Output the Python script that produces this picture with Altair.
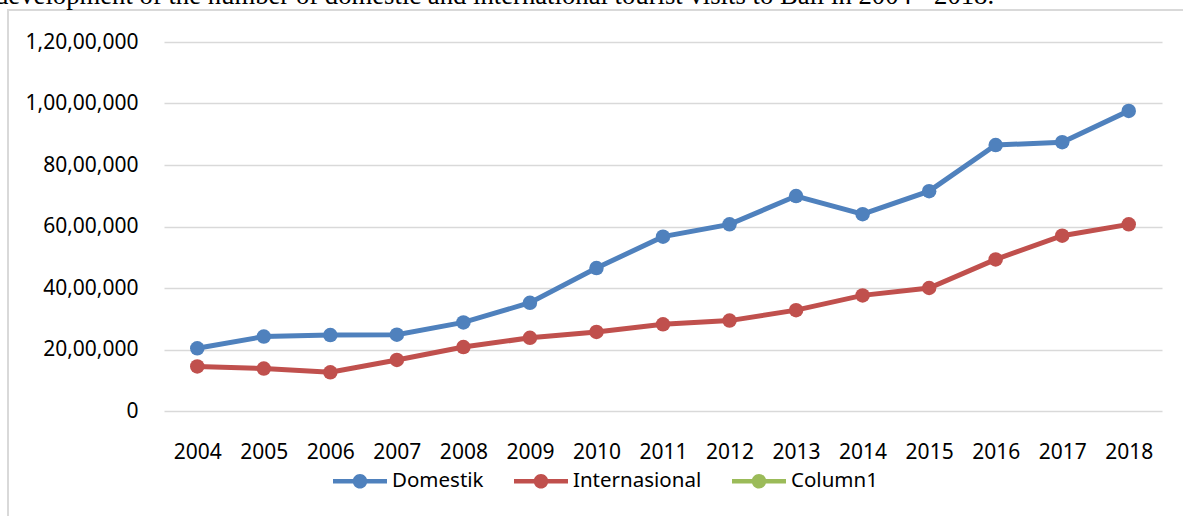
import altair as alt
import pandas as pd

years = ["2004", "2005", "2006", "2007", "2008", "2009", "2010", "2011",
         "2012", "2013", "2014", "2015", "2016", "2017", "2018"]
domestik = [2040000, 2420000, 2470000, 2480000, 2880000, 3520000, 4650000, 5670000,
            6070000, 6990000, 6400000, 7150000, 8650000, 8740000, 9760000]
internasional = [1450000, 1380000, 1260000, 1660000, 2080000, 2380000, 2570000, 2820000,
                 2940000, 3280000, 3760000, 4000000, 4930000, 5700000, 6070000]
series_names = ["Domestik", "Internasional", "Column1"]
series_colors = ["#4F81BD", "#C0504D", "#9BBB59"]
y_ticks = [0, 2000000, 4000000, 6000000, 8000000, 10000000, 12000000]
caption = "development of the number of domestic and international tourist visits to Bali in 2004 - 2018."

df = pd.DataFrame({
    "year": years * 2,
    "series": ["Domestik"] * len(years) + ["Internasional"] * len(years),
    "value": domestik + internasional,
})

FONT = "Noto Sans"

indian = ("datum.value == 0 ? '0' : "
          "(datum.value >= 10000000 ? format(floor(datum.value/10000000),'d') + ',' + format(floor(datum.value/100000)%100,'02d') "
          ": format(floor(datum.value/100000),'d')) + ',' + format(floor(datum.value/1000)%100,'02d') + ',' + format(datum.value%1000,'03d')")

x = alt.X("year:O", title=None, sort=years,
          axis=alt.Axis(labelAngle=0, grid=False, domain=False, ticks=False,
                        labelPadding=30, labelFont=FONT, labelFontSize=21, labelColor="black"))
y = alt.Y("value:Q", title=None,
          scale=alt.Scale(domain=[0, 12000000], nice=False),
          axis=alt.Axis(values=y_ticks, labelExpr=indian, grid=True, gridColor="#d9d9d9",
                        gridWidth=1.3, domain=False, ticks=False, labelPadding=26,
                        labelFont=FONT, labelFontSize=21, labelColor="black"))

color_scale = alt.Scale(domain=series_names, range=series_colors)

sym = ("M-1,-0.08L1,-0.08L1,0.08L-1,0.08Z "
       "M0.27,0A0.27,0.27 0 1,1 -0.27,0A0.27,0.27 0 1,1 0.27,0Z")

legend = alt.Legend(title=None, orient="none", direction="horizontal",
                    legendX=169, legendY=412,
                    symbolType=sym, symbolSize=2916, symbolStrokeWidth=0,
                    labelFont=FONT, labelFontSize=20.5, labelColor="black",
                    labelOffset=5, columnPadding=30, values=series_names)

base = alt.Chart(df)
lines = base.mark_line(strokeWidth=5).encode(
    x=x, y=y, color=alt.Color("series:N", scale=color_scale, legend=legend))
points = base.mark_circle(size=210, opacity=1).encode(
    x=x, y=y, color=alt.Color("series:N", scale=color_scale, legend=legend))

one = pd.DataFrame({"a": [0]})
border = alt.Chart(one).mark_rect(fillOpacity=0, stroke="#d9d9d9", strokeWidth=2).encode(
    x=alt.value(-156), x2=alt.value(1200), y=alt.value(-32), y2=alt.value(700))
title = alt.Chart(one).mark_text(font="Liberation Serif", fontSize=26.7, align="left",
                                 baseline="alphabetic", color="black").encode(
    x=alt.value(-169), y=alt.value(-38), text=alt.value(caption))

chart = alt.layer(border, title, lines, points).properties(
    width=998, height=369,
    padding={"left": 164, "top": 42, "right": 21, "bottom": 105},
    autosize="none",
    background="white",
).configure_view(stroke=None)

chart.save("out.html", embed_options={"renderer": "svg", "actions": False})
